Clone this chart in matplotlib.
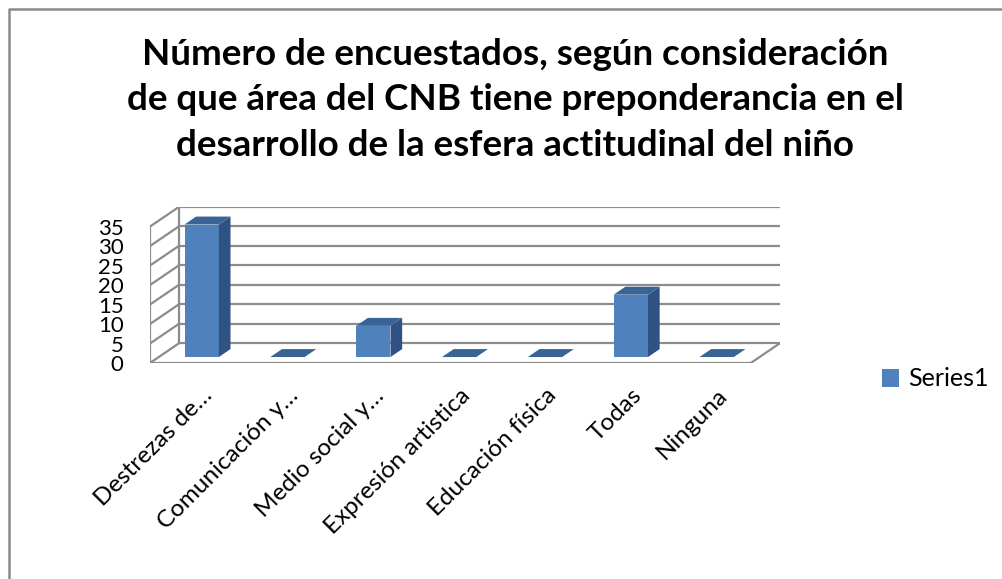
import matplotlib
matplotlib.use('Agg')
import matplotlib.pyplot as plt
from matplotlib.patches import Polygon, Patch
from matplotlib.lines import Line2D

categorias = ['Destrezas de…', 'Comunicación y…', 'Medio social y…',
              'Expresión artistica', 'Educación física', 'Todas', 'Ninguna']
valores = [34, 0, 8, 0, 0, 16, 0]
serie = 'Series1'
titulo = ('Número de encuestados, según consideración\n'
          'de que área del CNB tiene preponderancia en el\n'
          'desarrollo de la esfera actitudinal del niño')
yticks = [0, 5, 10, 15, 20, 25, 30, 35]

plt.rcParams['font.family'] = ['Lato', 'DejaVu Sans']

W, H = 1003, 579
fig = plt.figure(figsize=(W / 100, H / 100), dpi=100)

# chart area border: only left and top edges are inside the picture
fig.add_artist(Line2D([9 / W, 9 / W, 1.5], [-0.5, 1 - 9 / H, 1 - 9 / H],
                      transform=fig.transFigure, color='#8a8a8a', lw=1.8))

# fake 3d: depth offset in data units
DX, DY = 0.34, 5.1
f0, f1 = 0.3, 0.7
bw = 0.4
ymax = yticks[-1]
n = len(categorias)

ax = fig.add_axes([150 / W, 1 - 363 / H, 630 / W, (363 - 206.7) / H])
ax.set_xlim(-0.5, n - 0.5 + DX)
ax.set_ylim(0, ymax + DY)
for s in ax.spines.values():
    s.set_visible(False)

gc = '#8c8c8c'
glw = 1.6
x0 = -0.5
x1 = n - 0.5
# left wall + back wall grid
for v in yticks:
    ax.plot([x0, x0 + DX], [v, v + DY], color=gc, lw=glw, zorder=1)
    ax.plot([x0 + DX, x1 + DX], [v + DY, v + DY], color=gc, lw=glw, zorder=1)
ax.plot([x0, x0], [0, ymax], color=gc, lw=glw, zorder=1)
ax.plot([x0 + DX, x0 + DX], [DY, ymax + DY], color=gc, lw=glw, zorder=1)
# floor
ax.plot([x0, x1, x1 + DX], [0, 0, DY], color=gc, lw=glw, zorder=1)

xs = list(range(n))
front = '#4F81BD'
side = '#2F5282'
top = '#3A6496'
ax.bar([x + f0 * DX for x in xs], valores, width=bw, bottom=f0 * DY,
       color=front, zorder=3, label=serie)
for x, v in zip(xs, valores):
    l = x - bw / 2
    r = x + bw / 2
    b0 = f0 * DY
    b1 = f1 * DY
    if v > 0:
        ax.add_patch(Polygon([(r + f0 * DX, b0), (r + f1 * DX, b1), (r + f1 * DX, b1 + v),
                              (r + f0 * DX, b0 + v)], closed=True, facecolor=side,
                             edgecolor='none', zorder=3))
    ax.add_patch(Polygon([(l + f0 * DX, b0 + v), (r + f0 * DX, b0 + v), (r + f1 * DX, b1 + v),
                          (l + f1 * DX, b1 + v)], closed=True, facecolor=top,
                         edgecolor='none', zorder=3))

ax.set_yticks(yticks)
ax.set_yticklabels([str(t) for t in yticks], fontsize=16)
ax.tick_params(axis='y', length=0, pad=19)
ax.set_xticks([x + 0.19 for x in xs])
ax.set_xticklabels(categorias, fontsize=17.5, rotation=45, ha='right', va='center',
                   rotation_mode='anchor')
ax.tick_params(axis='x', length=0, pad=21)

fig.text(515 / W, 1 - 100 / H, titulo, ha='center', va='center', fontsize=26.5,
         fontweight='bold', linespacing=1.45)

fig.legend(handles=[Patch(facecolor=front, label=serie)], loc='center left',
           bbox_to_anchor=(882 / W, 1 - 379 / H), frameon=False, fontsize=18,
           handlelength=0.7, handleheight=0.7, handletextpad=0.35, borderpad=0,
           borderaxespad=0)

fig.savefig('out.png', dpi=100)
